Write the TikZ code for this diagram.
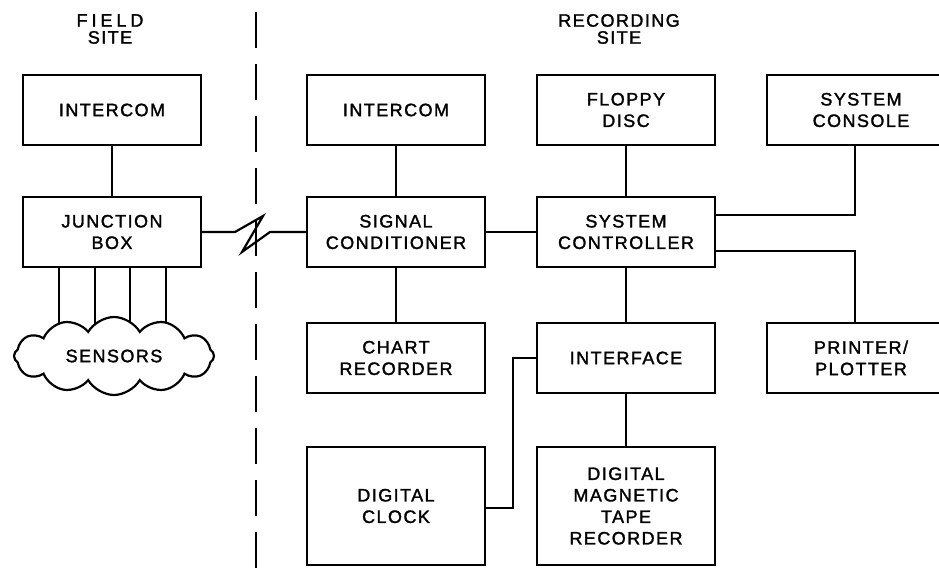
\documentclass[tikz,border=0pt]{standalone}
\usepackage{fontspec}
\setmainfont[LetterSpace=8,FakeBold=1.6]{Liberation Sans}
\newfontfamily\widefont[LetterSpace=22,FakeBold=1.6]{Liberation Sans}
\usetikzlibrary{shapes.symbols,backgrounds}
\begin{document}
\begin{tikzpicture}[x=1pt,y=-1pt,line width=2.2pt,
  blk/.style={draw,line width=2.2pt,align=center,inner sep=0pt,
    minimum width=178pt,minimum height=70pt,
    font=\fontsize{18}{21.5}\selectfont},
  tall/.style={blk,minimum height=118pt},
  wide/.style={blk,minimum width=188pt},
  title/.style={align=center,inner sep=0pt,font=\fontsize{18}{17}\selectfont},
  wire/.style={draw,line width=2.2pt},
  divider/.style={draw,line width=1.8pt,dash pattern=on 36pt off 16pt}]
\useasboundingbox (0,0) rectangle (939,569);

% site headings and the dividing line
\node[title] (field) at (110,29) {{\widefont FIELD}\\SITE};
\node[title] (rec) at (619,29) {RECORDING\\SITE};
\coordinate (divtop) at (256,12);
\coordinate (divbot) at (256,569);
\path[divider] (divtop) -- (divbot);

% field site
\node[blk] (fint) at (112,110) {INTERCOM};
\node[blk] (jb) at (112,232) {JUNCTION\\BOX};
\node[cloud,draw,fill=white,line width=2.2pt,cloud puffs=12,cloud puff arc=120,
  cloud ignores aspect,minimum width=200pt,minimum height=78pt,inner sep=0pt,
  font=\fontsize{18}{22}\selectfont] (sen) at (114,356) {SENSORS};

% recording site
\node[blk] (rint) at (396,110) {INTERCOM};
\node[blk] (fd) at (626,110) {FLOPPY\\DISC};
\node[wide] (con) at (861,110) {SYSTEM\\CONSOLE};
\node[blk] (sc) at (396,232) {SIGNAL\\CONDITIONER};
\node[blk] (ctl) at (626,232) {SYSTEM\\CONTROLLER};
\node[blk] (cr) at (396,358) {CHART\\RECORDER};
\node[blk] (itf) at (626,358) {INTERFACE};
\node[wide] (pp) at (861,358) {PRINTER/\\PLOTTER};
\node[tall] (clk) at (396,506) {DIGITAL\\CLOCK};
\node[tall] (tape) at (626,506) {DIGITAL\\MAGNETIC\\TAPE\\RECORDER};

% sensor leads, tucked behind the cloud
\coordinate (s1) at (59,0);
\coordinate (s2) at (95,0);
\coordinate (s3) at (130,0);
\coordinate (s4) at (166,0);
\begin{scope}[on background layer]
  \foreach \s in {s1,s2,s3,s4}
    \path[wire] (\s |- jb.south) -- (\s |- sen.center);
\end{scope}

% links
\path[wire] (fint) -- (jb);
\coordinate (z1) at (235,232);
\coordinate (z2) at (263,216);
\coordinate (z3) at (242,252);
\coordinate (z4) at (270,232);
\path[wire] (jb.east) -- (z1) -- (z2) -- (z3) -- (z4) -- (sc.west);
\path[wire] (rint) -- (sc);
\path[wire] (sc) -- (cr);
\path[wire] (sc) -- (ctl);
\path[wire] (fd) -- (ctl);
\path[wire] (ctl) -- (itf);
\path[wire] (itf) -- (tape);
\path[wire] ([yshift=17pt]ctl.east) -| ([xshift=-6pt]con.south);
\path[wire] ([yshift=-19pt]ctl.east) -| ([xshift=-6pt]pp.north);
\path[wire] ([yshift=-2pt]clk.east) -- ++(27,0) |- (itf.west);
\end{tikzpicture}
\end{document}
